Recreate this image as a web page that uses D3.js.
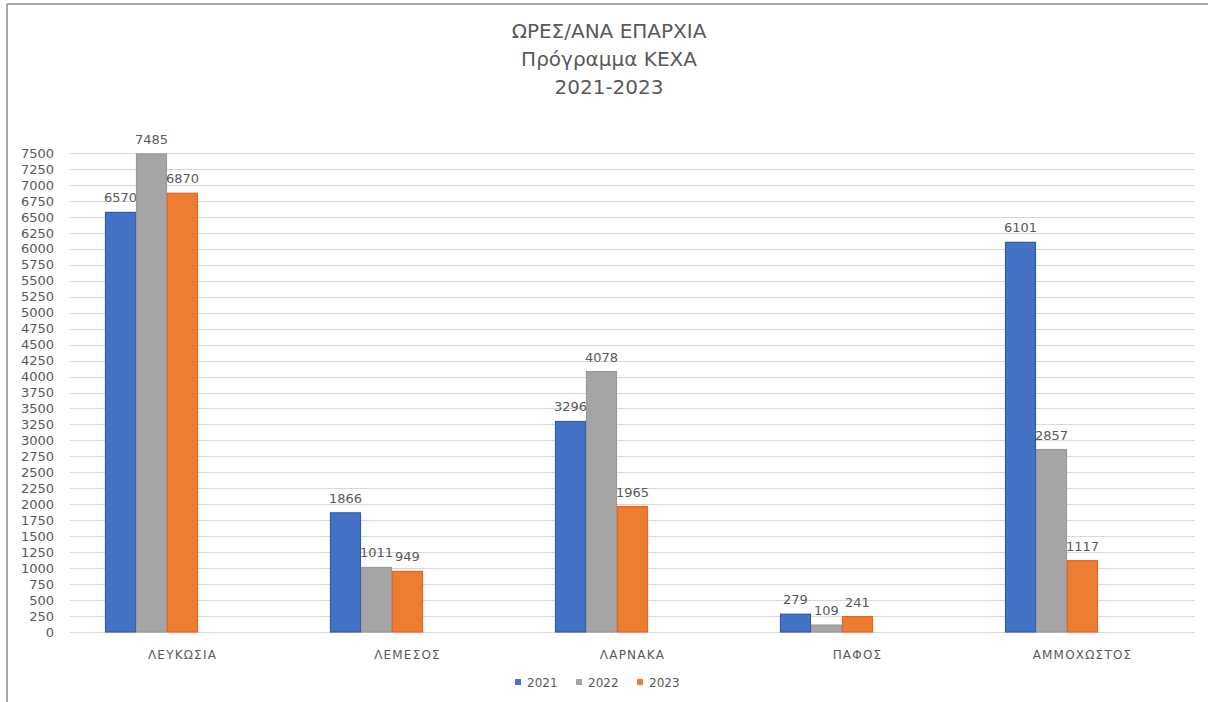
<!DOCTYPE html>
<html>
<head>
<meta charset="utf-8">
<script src="https://d3js.org/d3.v7.min.js"></script>
<style>
  body { margin: 0; background: #fff; }
  text { font-family: "DejaVu Sans", sans-serif; fill: #595959; }
</style>
</head>
<body>
<svg id="chart" width="1208" height="702"></svg>
<script>
// data
var titleLines = ["ΩΡΕΣ/ΑΝΑ ΕΠΑΡΧΙΑ", "Πρόγραμμα ΚΕΧΑ", "2021-2023"];
var categories = ["ΛΕΥΚΩΣΙΑ", "ΛΕΜΕΣΟΣ", "ΛΑΡΝΑΚΑ", "ΠΑΦΟΣ", "ΑΜΜΟΧΩΣΤΟΣ"];
var years = ["2021", "2022", "2023"];
var values2021 = [6570, 1866, 3296, 279, 6101];
var values2022 = [7485, 1011, 4078, 109, 2857];
var values2023 = [6870, 949, 1965, 241, 1117];
var yTicks = d3.range(0, 7501, 250);

var seriesValues = [values2021, values2022, values2023];
var colors = ["#4472c4", "#a5a5a5", "#ed7d31"];
var strokes = ["#2f5da8", "#9a9a9a", "#f0602a"];

var svg = d3.select("#chart");

// frame (top and left edge of the screenshot)
svg.append("line").attr("x1", 7).attr("x2", 1208).attr("y1", 4).attr("y2", 4)
   .attr("stroke", "#a6a6a6").attr("stroke-width", 2);
svg.append("line").attr("x1", 7).attr("x2", 7).attr("y1", 4).attr("y2", 702)
   .attr("stroke", "#a6a6a6").attr("stroke-width", 2);

var plotLeft = 70, plotRight = 1195, plotTop = 153, plotBottom = 632;

var y = d3.scaleLinear().domain([0, 7500]).range([plotBottom, plotTop]);
var x0 = d3.scaleBand().domain(categories).range([plotLeft, plotRight])
    .paddingInner(0.311).paddingOuter(0.1555);
// Excel left room for 5 series slots, only 3 used
var x1 = d3.scaleBand().domain(d3.range(5)).range([0, x0.bandwidth()]);

// gridlines
svg.append("g").selectAll("line").data(yTicks).join("line")
   .attr("x1", plotLeft).attr("x2", plotRight)
   .attr("y1", function(d) { return Math.round(y(d)) + 0.5; })
   .attr("y2", function(d) { return Math.round(y(d)) + 0.5; })
   .attr("stroke", "#d9d9d9").attr("stroke-width", 1);

// y axis labels
var yAxis = svg.append("g").attr("transform", "translate(" + (plotLeft - 16) + ",0)")
   .call(d3.axisLeft(y).tickValues(yTicks).tickFormat(d3.format("d")).tickSize(0).tickPadding(0));
yAxis.select(".domain").remove();
yAxis.selectAll("text").attr("font-size", 13).attr("font-family", "DejaVu Sans").attr("fill", "#595959");

// x axis labels
var xAxis = svg.append("g").attr("transform", "translate(0," + plotBottom + ")")
   .call(d3.axisBottom(x0).tickSize(0).tickPadding(18));
xAxis.select(".domain").remove();
xAxis.selectAll("text").attr("font-size", 12).attr("font-family", "DejaVu Sans")
   .attr("fill", "#595959").attr("letter-spacing", 1.2);

// bars
seriesValues.forEach(function(vals, si) {
  var g = svg.append("g");
  g.selectAll("rect").data(vals).join("rect")
    .attr("x", function(d, i) { return x0(categories[i]) + x1(si) + 0.5; })
    .attr("y", function(d) { return y(d); })
    .attr("width", x1.bandwidth() - 1)
    .attr("height", function(d) { return plotBottom - y(d); })
    .attr("fill", colors[si])
    .attr("stroke", strokes[si]).attr("stroke-width", 1.2);
  g.selectAll("text").data(vals).join("text")
    .attr("x", function(d, i) { return x0(categories[i]) + x1(si) + x1.bandwidth() / 2; })
    .attr("y", function(d) { return y(d) - 10; })
    .attr("text-anchor", "middle")
    .attr("font-size", 13)
    .text(function(d) { return d; });
});

// title
svg.append("g").selectAll("text").data(titleLines).join("text")
   .attr("x", 609).attr("y", function(d, i) { return 38 + i * 28; })
   .attr("text-anchor", "middle").attr("font-size", 20)
   .text(function(d) { return d; });

// legend
var legendX = [515, 576, 637];
var lg = svg.append("g").selectAll("g").data(years).join("g")
   .attr("transform", function(d, i) { return "translate(" + legendX[i] + ",682)"; });
lg.append("rect").attr("x", 0).attr("y", -3).attr("width", 6).attr("height", 6)
   .attr("fill", function(d, i) { return colors[i]; });
lg.append("text").attr("x", 12).attr("y", 4.5).attr("font-size", 12)
   .text(function(d) { return d; });
</script>
</body>
</html>
